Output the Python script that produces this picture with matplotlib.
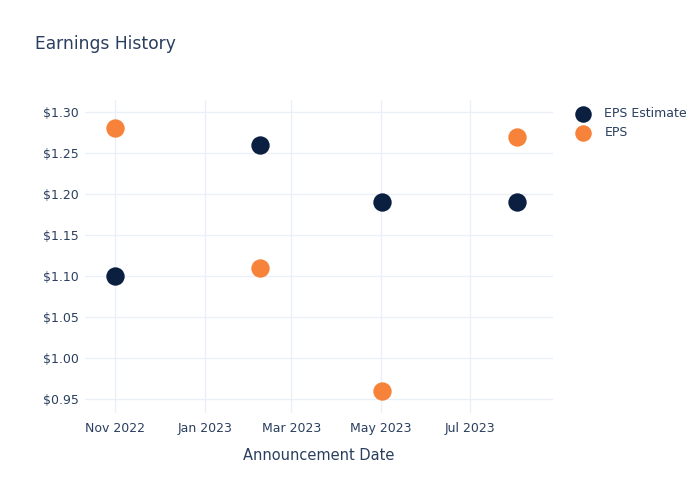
import numpy as np
import pandas as pd
import matplotlib
matplotlib.use("Agg")
import matplotlib.pyplot as plt
import matplotlib.dates as mdates

dates = pd.to_datetime(["2022-11-01", "2023-02-08", "2023-05-02", "2023-08-02"])
eps_estimate = [1.10, 1.26, 1.19, 1.19]
eps_actual = [1.28, 1.11, 0.96, 1.27]

text_col = "#2a3f5f"
grid_col = "#ebf0f8"
navy = "#0b1f41"
orange = "#f7833a"

fig = plt.figure(figsize=(7, 5), dpi=100)
ax = fig.add_axes([85 / 700, 1 - 413 / 500, (553 - 85) / 700, (413 - 100) / 500])

ax.scatter(dates, eps_estimate, s=175, color=navy, label="EPS Estimate", zorder=3, linewidths=0)
ax.scatter(dates, eps_actual, s=175, color=orange, label="EPS", zorder=3, linewidths=0)

ax.set_xlim(pd.Timestamp("2022-10-11 12:00"), pd.Timestamp("2023-08-26 12:00"))
ax.set_ylim(0.933, 1.3146)

ax.xaxis.set_major_locator(mdates.MonthLocator(bymonth=[1, 3, 5, 7, 11]))
ax.xaxis.set_major_formatter(mdates.DateFormatter("%b %Y"))
ax.set_yticks(np.arange(0.95, 1.301, 0.05))
ax.yaxis.set_major_formatter(plt.FuncFormatter(lambda v, p: f"${v:.2f}"))

ax.grid(True, color=grid_col, linewidth=1)
ax.set_axisbelow(True)
for sp in ax.spines.values():
    sp.set_visible(False)
ax.tick_params(length=0, colors=text_col, labelsize=9)
ax.tick_params(axis="y", pad=4.3)
ax.tick_params(axis="x", pad=6.5)

ax.set_xlabel("Announcement Date", color=text_col, fontsize=10.5, labelpad=9)
fig.text(35 / 700, 1 - 44 / 500, "Earnings History", color=text_col, fontsize=12.3, va="center")

leg = ax.legend(loc="upper left", bbox_to_anchor=(577 / 700, 1 - 107 / 500),
                bbox_transform=fig.transFigure, frameon=False, borderaxespad=0, borderpad=0,
                fontsize=9, labelcolor=text_col, handlelength=1.0, handletextpad=1.2,
                labelspacing=0.5, markerscale=0.9)

fig.savefig("out.png", dpi=100)
